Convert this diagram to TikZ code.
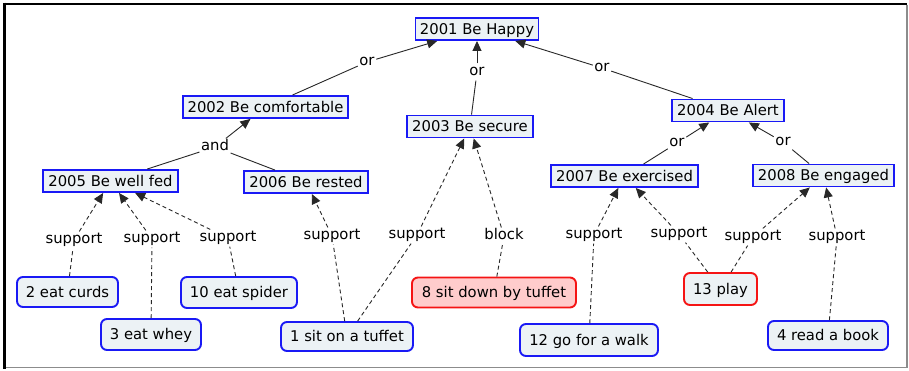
\documentclass[tikz,border=0pt]{standalone}
\usepackage{fontspec}
\setmainfont{DejaVu Sans}
\usetikzlibrary{arrows.meta}
\definecolor{cfill}{RGB}{236,242,245}
\definecolor{rfill}{RGB}{255,204,204}
\definecolor{cblue}{RGB}{25,25,245}
\definecolor{cred}{RGB}{245,20,20}
\definecolor{fgray}{RGB}{140,140,140}
\definecolor{lgray}{RGB}{40,40,40}
\begin{document}
\begin{tikzpicture}[x=1pt,y=-1pt,
  every node/.style={font=\fontsize{14.8}{16}\selectfont, text height=10.8pt, text depth=3pt},
  concept/.style={draw=cblue, line width=1.9pt, fill=cfill, inner sep=0pt, minimum height=22pt, text depth=0pt},
  leaf/.style={concept, rounded corners=6pt, minimum height=30pt},
  leafred/.style={leaf, draw=cred},
  leafpink/.style={leaf, draw=cred, fill=rfill},
  lbl/.style={inner sep=1.5pt},
  link/.style={draw=lgray, line width=0.9pt},
  dlink/.style={draw=lgray, line width=0.9pt, dash pattern=on 4pt off 3pt},
  tip/.style={-{Triangle[length=10pt,width=9pt]}}
]
\useasboundingbox (0,0) rectangle (909,370);
\fill[white] (0,0) rectangle (909,370);
% frame
\draw[black, line width=2pt] (3,3.7) -- (907,3.7);
\draw[black, line width=3pt] (4.3,2.7) -- (4.3,369);
\draw[fgray, line width=1.8pt] (906.7,4.5) -- (906.7,367.5) -- (5.5,367.5);

% concepts
\node[concept, minimum width=123pt] (n2001) at (477,29) {2001 Be Happy};
\node[concept, minimum width=165pt] (n2002) at (265.5,107) {2002 Be comfortable};
\node[concept, minimum width=126pt] (n2003) at (470,126.5) {2003 Be secure};
\node[concept, minimum width=112pt] (n2004) at (728,110.5) {2004 Be Alert};
\node[concept, minimum width=135pt] (n2005) at (110.5,181) {2005 Be well fed};
\node[concept, minimum width=124pt] (n2006) at (306,182) {2006 Be rested};
\node[concept, minimum width=147pt] (n2007) at (624.5,176) {2007 Be exercised};
\node[concept, minimum width=141pt] (n2008) at (823.5,175.5) {2008 Be engaged};

\node[leaf, minimum width=101pt] (c2) at (67.5,292) {2 eat curds};
\node[leaf, minimum width=100pt, minimum height=31pt] (c3) at (151,334.5) {3 eat whey};
\node[leaf, minimum width=116pt, minimum height=31pt] (c10) at (239,292.5) {10 eat spider};
\node[leaf, minimum width=132pt, minimum height=29pt] (c1) at (347,336.5) {1 sit on a tuffet};
\node[leafpink, minimum width=164pt] (c8) at (494,292.5) {8 sit down by tuffet};
\node[leaf, minimum width=138pt, minimum height=32pt] (c12) at (589,340) {12 go for a walk};
\node[leafred, minimum width=73pt, minimum height=32pt] (c13) at (720.5,289) {13 play};
\node[leaf, minimum width=120pt, minimum height=29pt] (c4) at (828,335.5) {4 read a book};

% link labels
\node[lbl] (l1) at (367,62) {or};
\node[lbl] (l2) at (477,72) {or};
\node[lbl] (l3) at (602,68) {or};
\node[lbl] (l4) at (215,147) {and};
\node[lbl] (l5) at (677,143) {or};
\node[lbl] (l6) at (783,142) {or};
\node[lbl] (s1) at (74,240) {support};
\node[lbl] (s2) at (152,239) {support};
\node[lbl] (s3) at (228,238) {support};
\node[lbl] (s4) at (332,236) {support};
\node[lbl] (s5) at (417,235) {support};
\node[lbl] (b1) at (504,236) {block};
\node[lbl] (s6) at (594,235) {support};
\node[lbl] (s7) at (679,234) {support};
\node[lbl] (s8) at (753,237) {support};
\node[lbl] (s9) at (837,237) {support};

% solid links
\draw[link] (n2002) -- (l1); \draw[link,tip] (l1) -- (n2001);
\draw[link] (n2003) -- (l2); \draw[link,tip] (l2) -- (n2001);
\draw[link] (n2004) -- (l3); \draw[link,tip] (l3) -- (n2001);
\draw[link] (n2005) -- (l4); \draw[link] (n2006) -- (l4); \draw[link,tip] (l4) -- (n2002);
\draw[link] (n2007) -- (l5); \draw[link,tip] (l5) -- (n2004);
\draw[link] (n2008) -- (l6); \draw[link,tip] (l6) -- (n2004);

% dashed links
\draw[dlink] (c2) -- (s1); \draw[dlink,tip] (s1) -- (n2005);
\draw[dlink] (c3) -- (s2); \draw[dlink,tip] (s2) -- (n2005);
\draw[dlink] (c10) -- (s3); \draw[dlink,tip] (s3) -- (n2005);
\draw[dlink] (c1) -- (s4); \draw[dlink,tip] (s4) -- (n2006);
\draw[dlink] (c1) -- (s5); \draw[dlink,tip] (s5) -- (n2003);
\draw[dlink] (c8) -- (b1); \draw[dlink,tip] (b1) -- (n2003);
\draw[dlink] (c12) -- (s6); \draw[dlink,tip] (s6) -- (n2007);
\draw[dlink] (c13) -- (s7); \draw[dlink,tip] (s7) -- (n2007);
\draw[dlink] (c13) -- (s8); \draw[dlink,tip] (s8) -- (n2008);
\draw[dlink] (c4) -- (s9); \draw[dlink,tip] (s9) -- (n2008);
\end{tikzpicture}
\end{document}
